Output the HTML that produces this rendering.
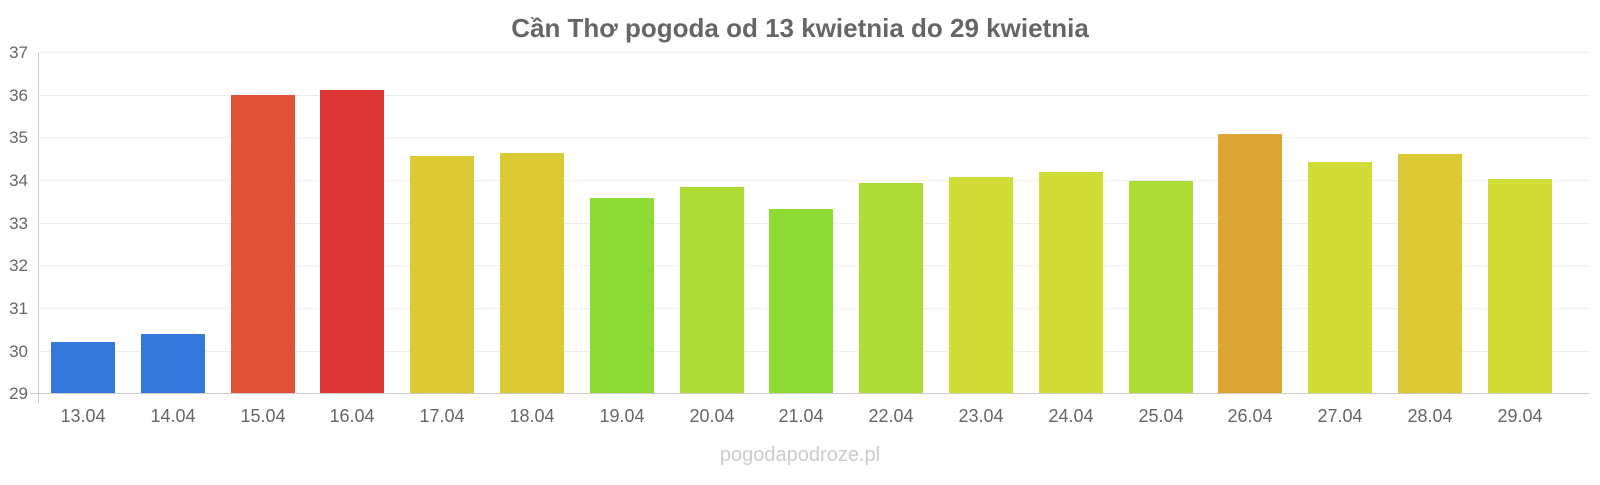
<!DOCTYPE html>
<html><head><meta charset="utf-8"><style>
body{margin:0;background:#fff;width:1600px;height:480px;overflow:hidden}
</style></head><body>
<svg width="1600" height="480" xmlns="http://www.w3.org/2000/svg" font-family="Liberation Sans, sans-serif">
<text x="800" y="37" text-anchor="middle" font-size="26" font-weight="bold" fill="#666">Cần Thơ pogoda od 13 kwietnia do 29 kwietnia</text>
<g stroke="#eee" stroke-width="1">
<line x1="38" x2="1590" y1="52.5" y2="52.5"/><line x1="38" x2="1590" y1="95.5" y2="95.5"/>
<line x1="38" x2="1590" y1="137.5" y2="137.5"/><line x1="38" x2="1590" y1="180.5" y2="180.5"/>
<line x1="38" x2="1590" y1="223.5" y2="223.5"/><line x1="38" x2="1590" y1="265.5" y2="265.5"/>
<line x1="38" x2="1590" y1="308.5" y2="308.5"/><line x1="38" x2="1590" y1="351.5" y2="351.5"/>
</g>
<line x1="38.5" x2="38.5" y1="52" y2="403" stroke="#ccc"/>
<line x1="30" x2="1590" y1="393.5" y2="393.5" stroke="#ccc"/>
<g font-size="17" fill="#666" text-anchor="end">
<text x="28" y="58">37</text><text x="28" y="101">36</text><text x="28" y="143">35</text>
<text x="28" y="186">34</text><text x="28" y="229">33</text><text x="28" y="271">32</text>
<text x="28" y="314">31</text><text x="28" y="357">30</text><text x="28" y="399">29</text>
</g>
<g>
<rect x="51" y="342" width="64" height="51" fill="#3478db"/>
<rect x="141" y="334" width="64" height="59" fill="#3478db"/>
<rect x="231" y="95" width="64" height="298" fill="#e05236"/>
<rect x="320" y="90" width="64" height="303" fill="#dc3636"/>
<rect x="410" y="156" width="64" height="237" fill="#dcca34"/>
<rect x="500" y="153" width="64" height="240" fill="#dcca34"/>
<rect x="590" y="198" width="64" height="195" fill="#8ddc36"/>
<rect x="680" y="187" width="64" height="206" fill="#addc34"/>
<rect x="769" y="209" width="64" height="184" fill="#8ddc36"/>
<rect x="859" y="183" width="64" height="210" fill="#addc34"/>
<rect x="949" y="177" width="64" height="216" fill="#d0dd36"/>
<rect x="1039" y="172" width="64" height="221" fill="#d0dd36"/>
<rect x="1129" y="181" width="64" height="212" fill="#addc34"/>
<rect x="1218" y="134" width="64" height="259" fill="#dca634"/>
<rect x="1308" y="162" width="64" height="231" fill="#d0dd36"/>
<rect x="1398" y="154" width="64" height="239" fill="#dcca34"/>
<rect x="1488" y="179" width="64" height="214" fill="#d0dd36"/>
</g>
<g font-size="18" fill="#666" text-anchor="middle">
<text x="83" y="422">13.04</text><text x="173" y="422">14.04</text><text x="263" y="422">15.04</text>
<text x="352" y="422">16.04</text><text x="442" y="422">17.04</text><text x="532" y="422">18.04</text>
<text x="622" y="422">19.04</text><text x="712" y="422">20.04</text><text x="801" y="422">21.04</text>
<text x="891" y="422">22.04</text><text x="981" y="422">23.04</text><text x="1071" y="422">24.04</text>
<text x="1161" y="422">25.04</text><text x="1250" y="422">26.04</text><text x="1340" y="422">27.04</text>
<text x="1430" y="422">28.04</text><text x="1520" y="422">29.04</text>
</g>
<text x="800" y="461" text-anchor="middle" font-size="20" fill="#ccc">pogodapodroze.pl</text>
</svg>
</body></html>
